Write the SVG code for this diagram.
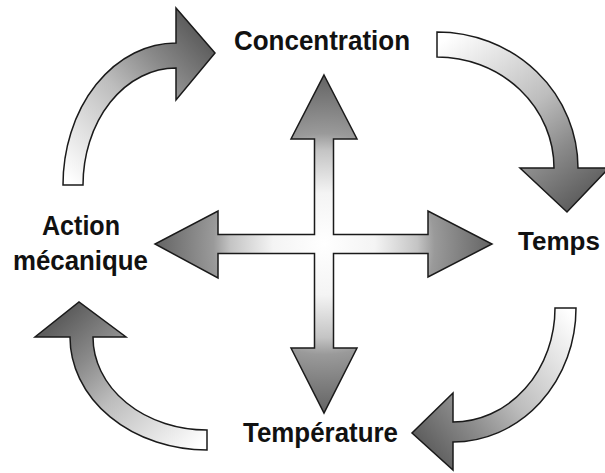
<svg xmlns="http://www.w3.org/2000/svg" width="605" height="473" viewBox="0 0 605 473">
<style>
.shape{stroke:#1a1a1a;stroke-width:1.5;stroke-linejoin:miter}
.lbl{font-family:"Liberation Sans",Arial,sans-serif;font-weight:bold;font-size:28px;fill:#111}
</style>
<defs>
<radialGradient id="gCross" gradientUnits="userSpaceOnUse" cx="324" cy="244" r="170">
<stop offset="0" stop-color="#ffffff"/>
<stop offset="0.3" stop-color="#f4f4f4"/>
<stop offset="0.55" stop-color="#c4c4c4"/>
<stop offset="0.65" stop-color="#9a9a9a"/>
<stop offset="1" stop-color="#626262"/>
</radialGradient>
<linearGradient id="gTL" gradientUnits="userSpaceOnUse" x1="73" y1="185" x2="215" y2="52">
<stop offset="0" stop-color="#ffffff"/>
<stop offset="0.5" stop-color="#bdbdbd"/>
<stop offset="0.75" stop-color="#8a8a8a"/>
<stop offset="1" stop-color="#5e5e5e"/>
</linearGradient>
<linearGradient id="gTR" gradientUnits="userSpaceOnUse" x1="438" y1="45" x2="566" y2="212">
<stop offset="0" stop-color="#ffffff"/>
<stop offset="0.5" stop-color="#bdbdbd"/>
<stop offset="0.75" stop-color="#8a8a8a"/>
<stop offset="1" stop-color="#5e5e5e"/>
</linearGradient>
<linearGradient id="gBR" gradientUnits="userSpaceOnUse" x1="566" y1="308" x2="412" y2="432">
<stop offset="0" stop-color="#ffffff"/>
<stop offset="0.5" stop-color="#bdbdbd"/>
<stop offset="0.75" stop-color="#8a8a8a"/>
<stop offset="1" stop-color="#5e5e5e"/>
</linearGradient>
<linearGradient id="gBL" gradientUnits="userSpaceOnUse" x1="207" y1="440" x2="79" y2="302">
<stop offset="0" stop-color="#ffffff"/>
<stop offset="0.5" stop-color="#bdbdbd"/>
<stop offset="0.75" stop-color="#8a8a8a"/>
<stop offset="1" stop-color="#5e5e5e"/>
</linearGradient>
</defs>
<rect width="605" height="473" fill="#ffffff"/>
<g id="connectors">
<path id="cross" class="shape" fill="url(#gCross)" d="M324,75 L357,139 L333.5,139 L333.5,234.5 L428,234.5 L428,211 L492,244 L428,277 L428,253.5 L333.5,253.5 L333.5,348 L357,348 L324,413 L291,348 L314.5,348 L314.5,253.5 L218,253.5 L218,278 L155,244 L218,211 L218,234.5 L314.5,234.5 L314.5,139 L291,139 Z"/>
<path id="arc-tl" class="shape" fill="url(#gTL)" d="M63,185 A113,142 0 0 1 176,43 L176,8 L215,53 L176,100 L176,68 A93,117 0 0 0 83,185 Z"/>
<path id="arc-tr" class="shape" fill="url(#gTR)" d="M437,32 A141,136 0 0 1 578,168 L609,168 L567,212 L520,168 L554,168 A117,111 0 0 0 437,57 Z"/>
<path id="arc-br" class="shape" fill="url(#gBR)" d="M576,308 A123,134 0 0 1 453,442 L453,470 L412,433 L453,393 L453,422 A102,114 0 0 0 555,308 Z"/>
<path id="arc-bl" class="shape" fill="url(#gBL)" d="M207,450 A137,113 0 0 1 70,337 L35,337 L79,302 L126,337 L93,337 A114,93 0 0 0 207,430 Z"/>
</g>
<g id="node-concentration"><text class="lbl" x="234" y="50" textLength="176" lengthAdjust="spacingAndGlyphs">Concentration</text></g>
<g id="node-temps"><text class="lbl" x="518" y="250" style="font-size:26px">Temps</text></g>
<g id="node-temperature"><text class="lbl" x="243" y="442" textLength="155" lengthAdjust="spacingAndGlyphs">Température</text></g>
<g id="node-action"><text class="lbl" x="42" y="235" textLength="78" lengthAdjust="spacingAndGlyphs">Action</text><text class="lbl" x="13" y="270" textLength="135" lengthAdjust="spacingAndGlyphs">mécanique</text></g>
</svg>
